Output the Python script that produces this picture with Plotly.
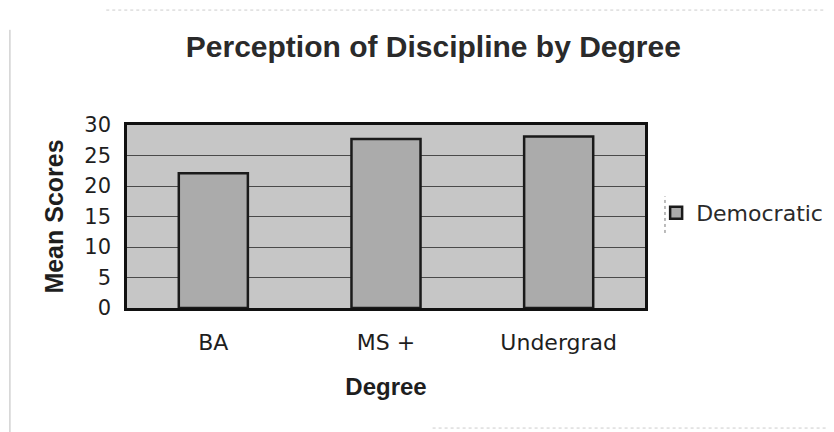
import plotly.graph_objects as go

categories = ["BA", "MS +", "Undergrad"]
democratic = [22.1, 27.7, 28.1]
y_ticks = [0, 5, 10, 15, 20, 25, 30]

fig = go.Figure()
fig.add_trace(go.Bar(
    x=categories, y=democratic, name="Democratic",
    marker=dict(color="#ababab", line=dict(color="#1a1a1a", width=2.5)),
    width=0.4,
))

sans = "DejaVu Sans, sans-serif"
lib = "Liberation Sans, Arial, sans-serif"
fig.update_layout(
    width=834, height=432,
    margin=dict(l=119, r=197, t=117, b=132),
    paper_bgcolor="white",
    plot_bgcolor="#c6c6c6",
    font=dict(family=sans, color="#1e1e1e", size=21),
    title=dict(text="<b>Perception of Discipline by Degree</b>",
               x=0.51, xanchor="center", y=0.912, yanchor="middle",
               font=dict(size=30, family=lib, color="#2a2a2a")),
    showlegend=True,
    legend=dict(x=1.0215, xanchor="left", y=0.519, yanchor="middle",
                font=dict(size=22, color="#2a2a2a", family=sans), bgcolor="rgba(0,0,0,0)",
                itemwidth=30),
    bargap=0.6,
)
fig.update_xaxes(
    showline=True, linecolor="#111", linewidth=2.5, mirror=True,
    ticks="", tickfont=dict(size=22, family=sans), ticklabelstandoff=13,
    title=dict(text="<b>Degree</b>", font=dict(size=24, family=lib), standoff=25),
)
fig.update_yaxes(
    range=[0, 30], tickvals=y_ticks, showgrid=True, gridcolor="#4a4a4a", gridwidth=1,
    showline=True, linecolor="#111", linewidth=2.5, mirror=True,
    ticks="", tickfont=dict(size=21, family=sans), ticklabelstandoff=9, zeroline=False,
    title=dict(text="<b>Mean Scores</b>", font=dict(size=25, family=lib), standoff=14),
)
# legend dotted left edge
fig.add_shape(type="line", xref="paper", yref="paper", x0=1.0386, x1=1.0386, y0=0.41, y1=0.61,
              line=dict(color="#777", width=1, dash="dot"))
# faint scan border lines
fig.add_shape(type="line", xref="paper", yref="paper", x0=-0.226, x1=-0.226, y0=-0.7, y1=1.52,
              line=dict(color="#bbbbbb", width=1))
fig.add_shape(type="line", xref="paper", yref="paper", x0=-0.04, x1=1.35, y0=1.628, y1=1.628,
              line=dict(color="#cccccc", width=1, dash="dot"))
fig.add_shape(type="line", xref="paper", yref="paper", x0=0.59, x1=1.35, y0=-0.656, y1=-0.656,
              line=dict(color="#cccccc", width=1, dash="dot"))
fig.write_html("out.html")
